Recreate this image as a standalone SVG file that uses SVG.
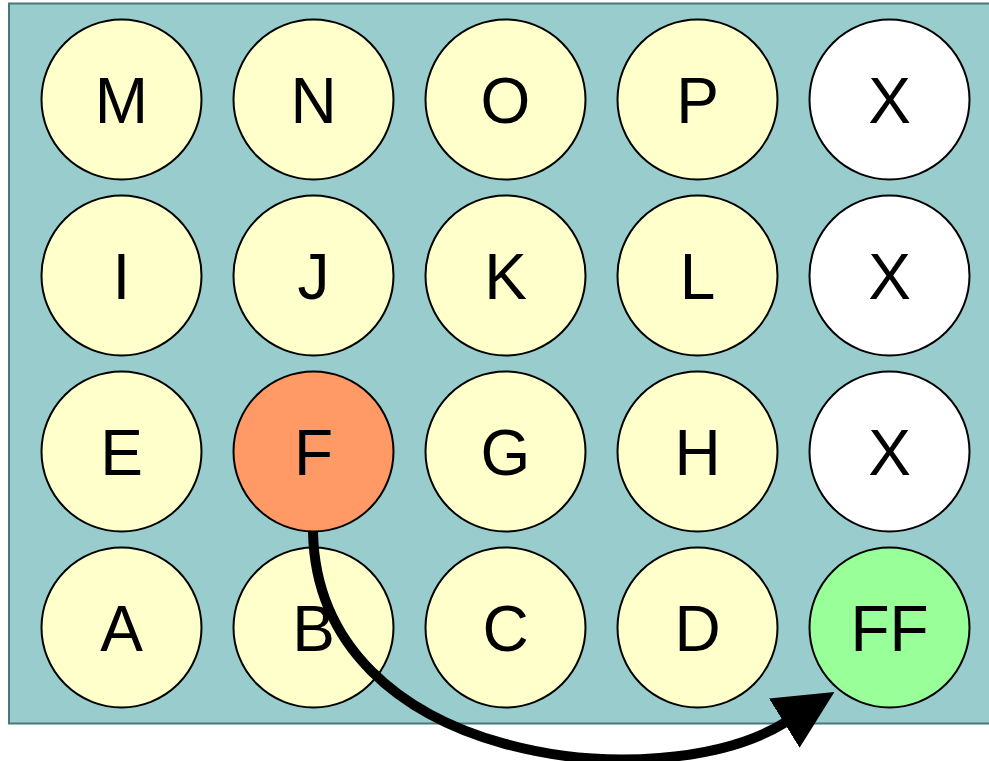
<svg xmlns="http://www.w3.org/2000/svg" width="989" height="761" viewBox="0 0 989 761">
<style>
.n circle{stroke:#000;stroke-width:2}
.y{fill:#ffffcc}
.w{fill:#ffffff}
.o{fill:#ff9966}
.g{fill:#99ff99}
text{font-family:"Liberation Sans",Arial,sans-serif;font-size:64px;text-anchor:middle;fill:#000}
</style>
<defs>
<marker id="ah" markerUnits="userSpaceOnUse" markerWidth="60" markerHeight="60" refX="2" refY="29" orient="auto" viewBox="0 0 60 58">
<path d="M0,0 L59,29 L0,58 z" fill="#000"/>
</marker>
</defs>
<rect x="9" y="3.5" width="990" height="720" fill="#99cccc" stroke="#4a7878" stroke-width="2"/>
<g id="M" class="n"><circle class="y" cx="121.5" cy="99.5" r="80"/><text x="121.5" y="123">M</text></g>
<g id="N" class="n"><circle class="y" cx="313.5" cy="99.5" r="80"/><text x="313.5" y="123">N</text></g>
<g id="O" class="n"><circle class="y" cx="505.5" cy="99.5" r="80"/><text x="505.5" y="123">O</text></g>
<g id="P" class="n"><circle class="y" cx="697.5" cy="99.5" r="80"/><text x="697.5" y="123">P</text></g>
<g id="X1" class="n"><circle class="w" cx="889.5" cy="99.5" r="80"/><text x="889.5" y="123">X</text></g>
<g id="I" class="n"><circle class="y" cx="121.5" cy="275.5" r="80"/><text x="121.5" y="299">I</text></g>
<g id="J" class="n"><circle class="y" cx="313.5" cy="275.5" r="80"/><text x="313.5" y="299">J</text></g>
<g id="K" class="n"><circle class="y" cx="505.5" cy="275.5" r="80"/><text x="505.5" y="299">K</text></g>
<g id="L" class="n"><circle class="y" cx="697.5" cy="275.5" r="80"/><text x="697.5" y="299">L</text></g>
<g id="X2" class="n"><circle class="w" cx="889.5" cy="275.5" r="80"/><text x="889.5" y="299">X</text></g>
<g id="E" class="n"><circle class="y" cx="121.5" cy="451.5" r="80"/><text x="121.5" y="475">E</text></g>
<g id="F" class="n"><circle class="o" cx="313.5" cy="451.5" r="80"/><text x="313.5" y="475">F</text></g>
<g id="G" class="n"><circle class="y" cx="505.5" cy="451.5" r="80"/><text x="505.5" y="475">G</text></g>
<g id="H" class="n"><circle class="y" cx="697.5" cy="451.5" r="80"/><text x="697.5" y="475">H</text></g>
<g id="X3" class="n"><circle class="w" cx="889.5" cy="451.5" r="80"/><text x="889.5" y="475">X</text></g>
<g id="A" class="n"><circle class="y" cx="121.5" cy="627.5" r="80"/><text x="121.5" y="651">A</text></g>
<g id="B" class="n"><circle class="y" cx="313.5" cy="627.5" r="80"/><text x="313.5" y="651">B</text></g>
<g id="C" class="n"><circle class="y" cx="505.5" cy="627.5" r="80"/><text x="505.5" y="651">C</text></g>
<g id="D" class="n"><circle class="y" cx="697.5" cy="627.5" r="80"/><text x="697.5" y="651">D</text></g>
<g id="FF" class="n"><circle class="g" cx="889.5" cy="627.5" r="80"/><text x="889.5" y="651">FF</text></g>
<g id="connectors">
<path d="M313,532 C318,765 660,800 786,722" fill="none" stroke="#000" stroke-width="10" marker-end="url(#ah)"/>
</g>
</svg>
